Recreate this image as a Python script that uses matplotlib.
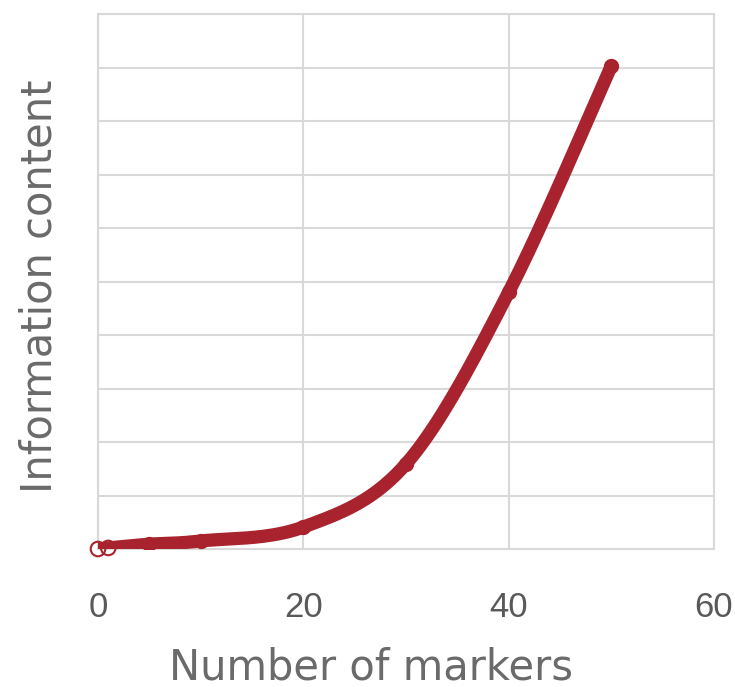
import matplotlib.pyplot as plt
import numpy as np

# data (y in grid units, 10 gridlines)
markers = [0, 1, 5, 10, 20, 30, 40, 50]
info = [0.0, 0.02, 0.09, 0.15, 0.41, 1.59, 4.8, 9.03]
hollow = [True, True, False, False, False, False, False, False]
x_ticks = [0, 20, 40, 60]

LINE = "#a8232d"
GRID = "#d9d9d9"
TEXT = "#595959"
LABEL = "#6a6a6a"


def smooth(xs, ys, n=40):
    """Catmull-Rom style bezier through the points, like a spreadsheet 'smoothed line'."""
    p = np.column_stack((xs, ys)).astype(float)
    p = np.vstack((p[0], p, p[-1]))
    out = []
    t = np.linspace(0, 1, n)[:, None]
    for i in range(1, len(p) - 2):
        p0, p1, p2, p3 = p[i - 1], p[i], p[i + 1], p[i + 2]
        c1 = p1 + (p2 - p0) / 6
        c2 = p2 - (p3 - p1) / 6
        seg = ((1 - t) ** 3) * p1 + 3 * ((1 - t) ** 2) * t * c1 + 3 * (1 - t) * t ** 2 * c2 + t ** 3 * p2
        out.append(seg if i == 1 else seg[1:])
    seg = np.vstack(out)
    return seg[:, 0], seg[:, 1]


fig = plt.figure(figsize=(7.35, 6.87), dpi=100)
ax = fig.add_axes([98 / 735, 1 - 549 / 687, (714 - 98) / 735, (549 - 14) / 687])

sx, sy = smooth(markers, info)
ax.plot(sx, sy, color=LINE, lw=9.5, solid_capstyle="round", zorder=3)

mx = np.array(markers)
my = np.array(info)
hm = np.array(hollow)
ax.scatter(mx[~hm], my[~hm], s=100, c=LINE, edgecolors=LINE, zorder=4)
ax.scatter(mx[hm], my[hm], s=110, facecolors="none", edgecolors=LINE, linewidths=1.5,
           zorder=4, clip_on=False)

ax.set_xlim(0, 60)
ax.set_ylim(0, 10)
ax.set_xticks(x_ticks)
ax.set_yticks(np.arange(0, 11, 1))
ax.set_yticklabels([])
ax.tick_params(length=0, pad=30)
for lab in ax.get_xticklabels():
    lab.set_fontfamily("Liberation Sans")
    lab.set_fontsize(25)
    lab.set_color(TEXT)

ax.grid(True, color=GRID, lw=1.5, zorder=0)
ax.set_axisbelow(True)
for s in ax.spines.values():
    s.set_color(GRID)
    s.set_linewidth(1.5)

fig.text(371 / 735, 1 - 679 / 687, "Number of markers", fontsize=30, color=LABEL,
         family="DejaVu Sans", ha="center", va="baseline")
fig.text(40 / 735, 1 - 286 / 687, "Information content", fontsize=30, color=LABEL,
         family="DejaVu Sans", ha="center", va="center", rotation=90)

fig.savefig("out.png", dpi=100, facecolor="white")
